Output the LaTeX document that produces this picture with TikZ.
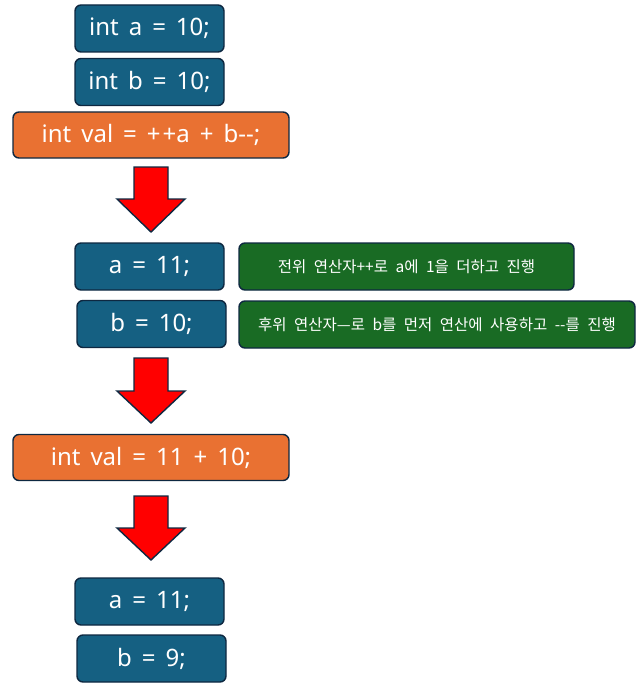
\documentclass[tikz,border=0pt]{standalone}
\usepackage{fontspec}
\setmainfont{Noto Sans}
\newfontfamily\lat{Noto Sans}
\newfontfamily\kr{Noto Sans CJK KR}
\newcommand\boxfont{\lat\fontsize{24}{28}\selectfont\spaceskip=10pt plus 2pt\relax}
\newcommand\notefont{\kr\fontsize{15.5}{18}\selectfont\spaceskip=7.5pt plus 2pt\relax}
\definecolor{bluebox}{HTML}{156082}
\definecolor{orangebox}{HTML}{E97132}
\definecolor{greenbox}{HTML}{196B24}
\definecolor{edgecol}{HTML}{0E2841}
\definecolor{redarrow}{HTML}{FF0000}
\begin{document}
\begin{tikzpicture}[x=1pt,y=-1pt,
  box/.style={draw=edgecol,line width=1.4pt,rounded corners=6pt,text=white,inner sep=0pt,font=\boxfont},
  bbox/.style={box,fill=bluebox,minimum width=149pt,minimum height=47pt},
  obox/.style={box,fill=orangebox,minimum width=276pt,minimum height=46pt},
  gbox/.style={box,fill=greenbox,minimum height=47pt,font=\notefont},
  downarrow/.style={draw=edgecol,line width=1.4pt,fill=redarrow}]
\useasboundingbox (0,0) rectangle (639,690);
\node[bbox] (a1) at (149.5,28.5) {int a = 10;};
\node[bbox] (b1) at (149.5,82) {int b = 10;};
\node[obox] (v1) at (151,135) {int val = +\kern2pt+a + b--;};
\draw[downarrow] (134,167) -- (168,167) -- (168,199) -- (185,199) -- (151,232) -- (117,199) -- (134,199) -- cycle;
\node[bbox] (a2) at (149.5,266.5) {a = 11;};
\node[bbox] (b2) at (151.5,324) {b = 10;};
\node[gbox,minimum width=335pt] (g1) at (406.5,266.5) {전위 연산자++로 a에 1을 더하고 진행};
\node[gbox,minimum width=396pt] (g2) at (437,324.5) {후위 연산자—로 b를 먼저 연산에 사용하고 --를 진행};
\draw[downarrow] (134,358) -- (168,358) -- (168,391) -- (185,391) -- (151,423) -- (117,391) -- (134,391) -- cycle;
\node[obox] (v2) at (151,457.5) {int val = 11 + 10;};
\draw[downarrow] (134,496) -- (168,496) -- (168,528) -- (185,528) -- (151,560) -- (117,528) -- (134,528) -- cycle;
\node[bbox] (a3) at (149.5,601.5) {a = 11;};
\node[bbox] (b3) at (151.5,658.5) {b = 9;};
\end{tikzpicture}
\end{document}
